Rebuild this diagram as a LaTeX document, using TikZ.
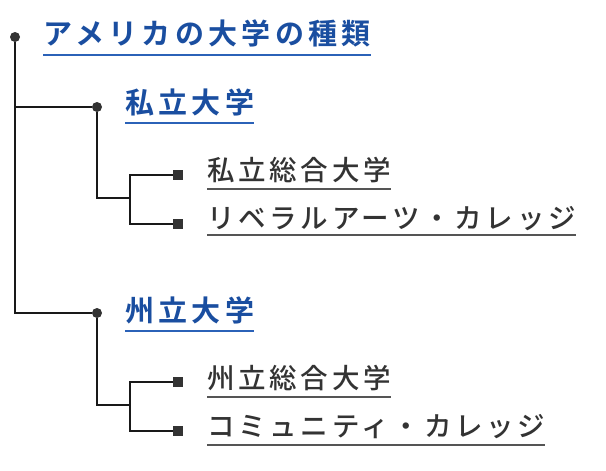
\documentclass[tikz,border=0pt]{standalone}
\usepackage{fontspec}
\usepackage{tikz}
\usetikzlibrary{positioning}
\newfontfamily\jphead[LetterSpace=15]{Noto Sans CJK JP Bold}
\newfontfamily\jpitem[LetterSpace=13.5]{Noto Sans CJK JP Medium}
\definecolor{headblue}{HTML}{1A4EA0}
\definecolor{lineblue}{HTML}{2B62B8}
\definecolor{itemgray}{HTML}{333333}
\definecolor{linegray}{HTML}{555555}
\tikzset{dot/.style = {fill = itemgray, circle, inner sep = 0, minimum size = 10}}
\tikzset{sq/.style = {fill = itemgray, rectangle, inner sep = 0, minimum size = 10}}
\tikzset{head/.style = {anchor = base west, inner sep = 0, text = headblue, font = \jphead\fontsize{29}{30}\selectfont}}
\tikzset{item/.style = {anchor = base west, inner sep = 0, text = itemgray, font = \jpitem\fontsize{27.5}{29}\selectfont}}
\tikzset{uhead/.style = {draw = lineblue, line width = 2}}
\tikzset{uitem/.style = {draw = linegray, line width = 2.2}}
\tikzset{conn/.style = {draw = black!90, line width = 1.5}}

\begin{document}
\begin{tikzpicture}[x = 1pt, y = -1pt]
    \useasboundingbox (0, 0) rectangle (606, 471);

    % tree points
    \node [dot] (root) at (15, 37) {};
    \node [dot] (priv) at (97, 107) {};
    \node [dot] (state) at (97, 313) {};
    \node [sq] (priv1) at (178, 175) {};
    \node [sq] (priv2) at (178, 224) {};
    \node [sq] (state1) at (178, 382) {};
    \node [sq] (state2) at (178, 431) {};
    \coordinate (privj) at (130, 198);
    \coordinate (statej) at (130, 405);

    % labels
    \node [head] (title) at (43, 45) {アメリカの大学の種類};
    \node [head] (privt) at (125, 113) {私立大学};
    \node [head] (statet) at (125, 321) {州立大学};
    \node [item] (priv1t) at (207, 180) {私立総合大学};
    \node [item] (priv2t) at (207, 228) {リベラルアーツ・カレッジ};
    \node [item] (state1t) at (207, 388) {州立総合大学};
    \node [item] (state2t) at (207, 436) {コミュニティ・カレッジ};

    % underlines
    \path [uhead] ([yshift = -10] title.base west) -- ([yshift = -10] title.base east);
    \path [uhead] ([yshift = -10] privt.base west) -- ([yshift = -10] privt.base east);
    \path [uhead] ([yshift = -10] statet.base west) -- ([yshift = -10] statet.base east);
    \path [uitem] ([yshift = -9] priv1t.base west) -- ([yshift = -9] priv1t.base east);
    \path [uitem] ([yshift = -7] priv2t.base west) -- ([yshift = -7] priv2t.base east);
    \path [uitem] ([yshift = -9] state1t.base west) -- ([yshift = -9] state1t.base east);
    \path [uitem] ([yshift = -9] state2t.base west) -- ([yshift = -9] state2t.base east);

    % connectors
    \path [conn] (root) |- (priv);
    \path [conn] (root) |- (state);
    \path [conn] (priv) |- (privj);
    \path [conn] (privj) |- (priv1);
    \path [conn] (privj) |- (priv2);
    \path [conn] (state) |- (statej);
    \path [conn] (statej) |- (state1);
    \path [conn] (statej) |- (state2);
  \end{tikzpicture}
\end{document}
